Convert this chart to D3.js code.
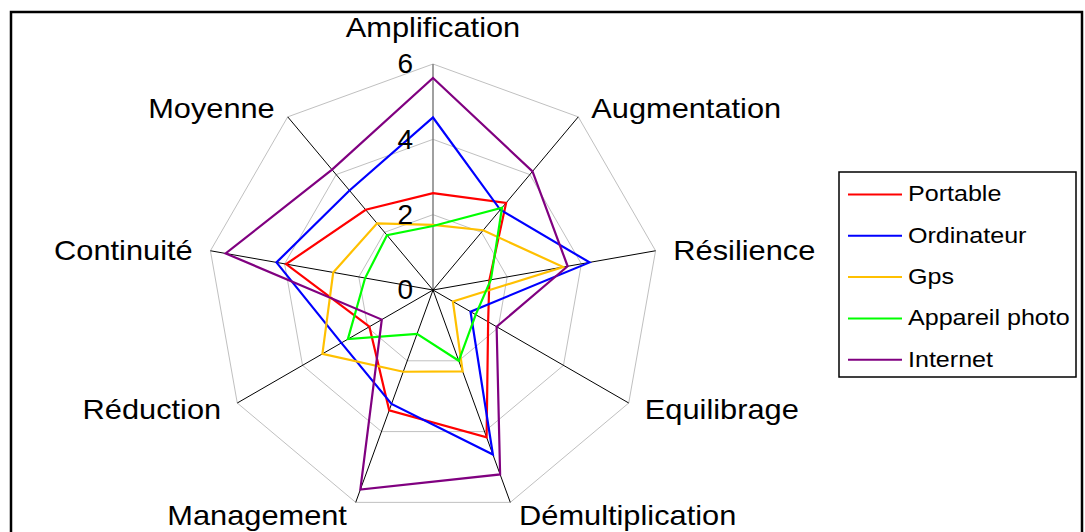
<!DOCTYPE html>
<html>
<head>
<meta charset="utf-8">
<script src="https://cdn.jsdelivr.net/npm/d3@7"></script>
<style>
  body { margin: 0; background: #fff; }
  svg { display: block; font-family: "Liberation Sans", Arial, sans-serif; }
</style>
</head>
<body>
<svg id="radar"></svg>
<script>
// Radar chart data
const axes = ["Amplification", "Augmentation", "Résilience", "Equilibrage", "Démultiplication",
  "Management", "Réduction", "Continuité", "Moyenne"];
const portable   = [2.57, 3.02, 1.52, 1.69, 4.16, 3.40, 1.95, 3.96, 2.78];
const ordinateur = [4.58, 2.78, 4.22, 1.15, 4.65, 3.22, 2.81, 4.22, 3.45];
const gps        = [1.73, 2.07, 3.51, 0.61, 2.30, 2.31, 3.39, 2.69, 2.31];
const appareil   = [1.70, 2.85, 1.56, 1.31, 2.00, 1.24, 2.61, 1.83, 1.90];
const internet   = [5.63, 4.11, 3.63, 1.95, 5.21, 5.64, 1.57, 5.59, 4.17];
const seriesNames = ["Portable", "Ordinateur", "Gps", "Appareil photo", "Internet"];
const seriesValues = [portable, ordinateur, gps, appareil, internet];
const tickValues = [0, 2, 4, 6];

const width = 1085, height = 532;
const cx = 433, cy = 290;
const colors = ["#ff0000", "#0000ff", "#ffc000", "#00ff00", "#800080"];
const stretch = 1.14; // the reference text is a bit wide

let svg = d3.select("svg#radar")
  .attr("width", width)
  .attr("height", height);

// outer frame
svg.append("rect")
  .attr("x", 11).attr("y", 12)
  .attr("width", 1071).attr("height", 540)
  .attr("fill", "none")
  .attr("stroke", "#000")
  .attr("stroke-width", 2.5);

let g = svg.append("g").attr("transform", `translate(${cx},${cy})`);

const rScale = d3.scaleLinear().domain([0, 6]).range([0, 226]);
const angle = d3.scaleLinear().domain([0, axes.length]).range([0, 2 * Math.PI]);

const pt = (i, v) => [Math.sin(angle(i)) * rScale(v), -Math.cos(angle(i)) * rScale(v)];

// grid rings
g.append("g").selectAll("path")
  .data(tickValues.filter(t => t > 0))
  .join("path")
  .attr("d", t => d3.line().curve(d3.curveLinearClosed)(axes.map((a, i) => pt(i, t))))
  .attr("fill", "none")
  .attr("stroke", "#c0c0c0")
  .attr("stroke-width", 1);

// spokes
g.append("g").selectAll("line")
  .data(axes)
  .join("line")
  .attr("x1", 0).attr("y1", 0)
  .attr("x2", (d, i) => pt(i, 6)[0])
  .attr("y2", (d, i) => pt(i, 6)[1])
  .attr("stroke", (d, i) => i === 0 ? "#808080" : "#000")
  .attr("stroke-width", (d, i) => i === 0 ? 1.5 : 1);

// series
const radial = d3.lineRadial()
  .angle((d, i) => angle(i))
  .radius(d => rScale(d))
  .curve(d3.curveLinearClosed);

g.append("g").selectAll("path")
  .data(seriesValues)
  .join("path")
  .attr("d", d => radial(d))
  .attr("fill", "none")
  .attr("stroke", (d, i) => colors[i])
  .attr("stroke-width", 2.2)
  .attr("stroke-linejoin", "miter");

// tick labels
g.append("g").selectAll("text")
  .data(tickValues)
  .join("text")
  .attr("x", -20)
  .attr("y", t => -rScale(t) + 2)
  .attr("text-anchor", "end")
  .attr("dominant-baseline", "middle")
  .attr("font-size", 28)
  .text(t => t);

// axis labels
g.append("g").selectAll("text")
  .data(axes)
  .join("text")
  .attr("transform", (d, i) => {
    const s = Math.sin(angle(i)), c = -Math.cos(angle(i));
    let x = s * (rScale(6) + 14), y = c * (rScale(6) + 14) + (c > 0 ? 2 : 5);
    if (i === 0) { y = -rScale(6) - 34; }
    else x += s > 0 ? 4 : -4;
    return `translate(${x},${y}) scale(${stretch},1)`;
  })
  .attr("text-anchor", (d, i) => i === 0 ? "middle" : (Math.sin(angle(i)) > 0 ? "start" : "end"))
  .attr("dominant-baseline", "middle")
  .attr("font-size", 27)
  .text(d => d);

// legend
const legend = svg.append("g");
legend.append("rect")
  .attr("x", 839).attr("y", 172)
  .attr("width", 237).attr("height", 205)
  .attr("fill", "#fff")
  .attr("stroke", "#000")
  .attr("stroke-width", 1.5);

const items = legend.selectAll("g.item")
  .data(seriesNames)
  .join("g")
  .attr("class", "item")
  .attr("transform", (d, i) => `translate(848,${194.5 + i * 41.3})`);

items.append("line")
  .attr("x1", 0).attr("x2", 54)
  .attr("stroke", (d, i) => colors[i])
  .attr("stroke-width", 2);

items.append("text")
  .attr("transform", `translate(60,1) scale(${stretch},1)`)
  .attr("dominant-baseline", "middle")
  .attr("font-size", 22)
  .text(d => d);
</script>
</body>
</html>
